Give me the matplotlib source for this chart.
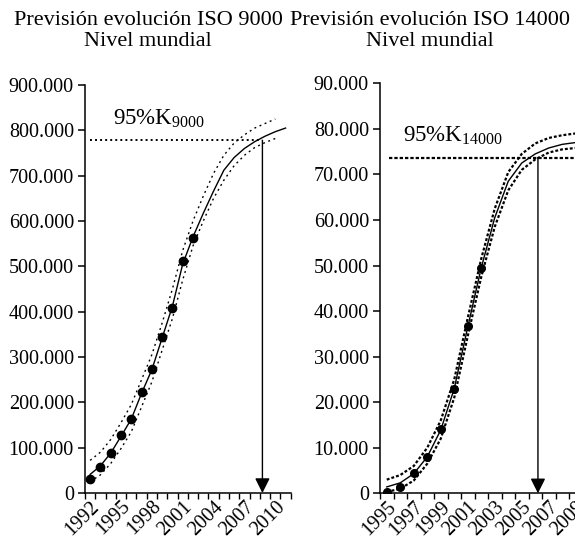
import matplotlib
matplotlib.use("Agg")
import matplotlib.pyplot as plt
from matplotlib.ticker import FuncFormatter, FixedLocator
import numpy as np

plt.rcParams['font.family'] = ['Liberation Serif', 'DejaVu Serif']
plt.rcParams['mathtext.fontset'] = 'custom'
plt.rcParams['mathtext.rm'] = 'Liberation Serif'
plt.rcParams['mathtext.it'] = 'Liberation Serif:italic'

# ---------------- ISO 9000 ----------------
years_9000 = list(range(1992, 2012))
obs_years_9000 = list(range(1992, 2003))
obs_9000 = [30000, 58000, 89000, 128000, 163000, 223000, 274000, 345000, 409000, 511000, 562000]
fit_9000 = [41000, 60000, 88000, 125000, 163000, 220000, 272000, 342000, 412000, 505000,
            565000, 617000, 666000, 712000, 740000, 760000, 775000, 787000, 797000, 805000]
band_years_9000 = list(range(1992, 2011))
upper_9000 = [72000, 90000, 118000, 155000, 195000, 250000, 305000, 375000, 450000, 535000,
              600000, 655000, 705000, 745000, 772000, 790000, 805000, 815000, 825000]
lower_9000 = [25000, 40000, 65000, 98000, 135000, 190000, 245000, 315000, 385000, 470000,
              545000, 600000, 650000, 690000, 722000, 745000, 762000, 773000, 782000]
k95_9000 = 778000
arrow_year_9000 = 2008.75
label_years_9000 = [1992, 1995, 1998, 2001, 2004, 2007, 2010]

# ---------------- ISO 14000 ----------------
years_14000 = list(range(1995, 2010))
obs_years_14000 = list(range(1995, 2003))
obs_14000 = [257, 1491, 4433, 7887, 14106, 22897, 36765, 49462]
fit_14000 = [1400, 2300, 4300, 8000, 13900, 23000, 36500, 49500, 60500, 68500,
             72500, 74500, 75800, 76600, 77000]
upper_14000 = [3000, 4000, 6000, 10000, 16000, 25000, 38500, 51500, 62500, 70500,
               74500, 76800, 78000, 78600, 79000]
lower_14000 = [300, 1000, 2800, 6500, 12000, 21000, 34500, 47500, 58500, 66500,
               71000, 73300, 74800, 75500, 75800]
k95_14000 = 73700
arrow_year_14000 = 2006.2
label_years_14000 = [1995, 1997, 1999, 2001, 2003, 2005, 2007, 2009]

W, H = 575, 541
fig = plt.figure(figsize=(W / 100, H / 100), dpi=100)

FS = 14.5


def fmt(v, pos):
    return f"{int(round(v)):,}".replace(",", ".")


def style_axes(ax, years, label_years, ymax, ystep):
    for s in ['top', 'right']:
        ax.spines[s].set_visible(False)
    for s in ['left', 'bottom']:
        ax.spines[s].set_linewidth(1.1)
    ax.set_xlim(years[0] - 0.5, years[-1] + 0.5)
    ax.set_ylim(0, ymax)
    ax.set_yticks(np.arange(0, ymax + 1, ystep))
    ax.yaxis.set_major_formatter(FuncFormatter(fmt))
    ax.tick_params(axis='y', direction='out', length=5, width=1.1, labelsize=FS, pad=3)
    ax.xaxis.set_minor_locator(FixedLocator([y - 0.5 for y in years] + [years[-1] + 0.5]))
    ax.set_xticks(label_years)
    ax.set_xticklabels([str(y) for y in label_years], rotation=45, ha='right', va='top',
                       rotation_mode='anchor', fontsize=FS)
    ax.tick_params(axis='x', which='major', length=0, pad=3)
    ax.tick_params(axis='x', which='minor', direction='out', length=4, width=1.0)


# Left panel
ax1 = fig.add_axes([85 / W, 1 - 493 / H, 205.7 / W, (493 - 85) / H])
style_axes(ax1, years_9000, label_years_9000, 900000, 100000)
ax1.plot(band_years_9000, upper_9000, color='black', lw=1.0, linestyle=(0, (1.4, 2.6)))
ax1.plot(band_years_9000, lower_9000, color='black', lw=1.0, linestyle=(0, (1.4, 2.6)))
ax1.plot(years_9000, fit_9000, color='black', lw=1.0)
ax1.plot(obs_years_9000, obs_9000, 'o', color='black', markersize=6, linestyle='none')
ax1.plot([years_9000[0], arrow_year_9000], [k95_9000, k95_9000], color='black', lw=1.4,
         linestyle=(0, (1.0, 1.6)))
ax1.annotate('', xy=(arrow_year_9000, 0), xytext=(arrow_year_9000, k95_9000),
             arrowprops=dict(arrowstyle='-|>,head_length=0.9,head_width=0.45', color='black',
                             lw=1.0, shrinkA=0, shrinkB=0))
ax1.text(1994.2, 812000, r'95%K$_{\mathrm{9000}}$', fontsize=16.5, ha='left', va='baseline')

# Right panel
ax2 = fig.add_axes([380 / W, 1 - 493.3 / H, 202.5 / W, (493.3 - 83.3) / H])
style_axes(ax2, years_14000, label_years_14000, 90000, 10000)
ax2.plot(years_14000, upper_14000, color='black', lw=1.6, linestyle=(0, (1.3, 0.9)))
ax2.plot(years_14000, lower_14000, color='black', lw=1.6, linestyle=(0, (1.3, 0.9)))
ax2.plot(years_14000, fit_14000, color='black', lw=1.0)
ax2.plot(obs_years_14000, obs_14000, 'o', color='black', markersize=5.5, linestyle='none')
ax2.plot([years_14000[0] + 0.2, years_14000[-1] + 0.5], [k95_14000, k95_14000], color='black',
         lw=1.6, linestyle=(0, (1.5, 0.9)), clip_on=False)
ax2.annotate('', xy=(arrow_year_14000, 0), xytext=(arrow_year_14000, k95_14000),
             arrowprops=dict(arrowstyle='-|>,head_length=0.9,head_width=0.45', color='black',
                             lw=1.0, shrinkA=0, shrinkB=0))
ax2.text(1996.2, 77200, r'95%K$_{\mathrm{14000}}$', fontsize=16.5, ha='left', va='baseline')

# Titles
fig.text(148 / W, 1 - 31 / H, 'Previsión evolución ISO 9000\nNivel mundial', ha='center',
         va='center', fontsize=16, linespacing=1.1)
fig.text(430 / W, 1 - 31 / H, 'Previsión evolución ISO 14000\nNivel mundial', ha='center',
         va='center', fontsize=16, linespacing=1.1)

fig.savefig('out.png', dpi=100)
